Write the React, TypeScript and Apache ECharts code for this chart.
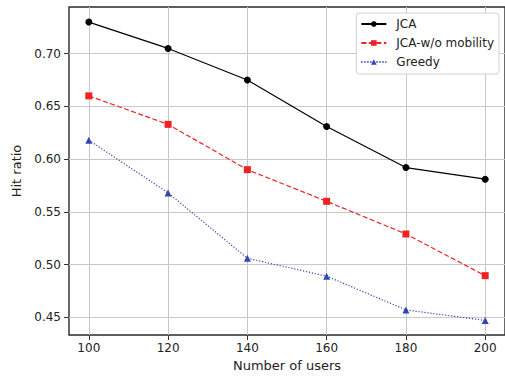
import React, { useEffect, useRef } from "react";
import * as echarts from "echarts";

const users = [100, 120, 140, 160, 180, 200];
const jca = [0.730, 0.705, 0.675, 0.631, 0.592, 0.581];
const jcaNoMobility = [0.660, 0.633, 0.590, 0.560, 0.529, 0.4895];
const greedy = [0.618, 0.568, 0.506, 0.489, 0.457, 0.447];
const yTicks = [0.45, 0.5, 0.55, 0.6, 0.65, 0.7];
const seriesNames = ["JCA", "JCA-w/o mobility", "Greedy"];

const FONT = "DejaVu Sans";

export default function App() {
  const ref = useRef<HTMLDivElement>(null);
  useEffect(() => {
    const chart = echarts.init(ref.current!, null, { renderer: "svg" });
    const pair = (arr: number[]) => users.map((u, i) => [u, arr[i]]);
    chart.setOption({
      animation: false,
      backgroundColor: "#ffffff",
      grid: {
        left: 69,
        top: 7,
        right: 0,
        bottom: 42,
        show: true,
        borderColor: "#2a2a2a",
        borderWidth: 1.4,
        backgroundColor: "transparent",
      },
      legend: {
        orient: "vertical",
        right: 6,
        top: 13,
        data: seriesNames,
        itemWidth: 25,
        itemHeight: 7,
        itemGap: 7,
        padding: [5, 5, 6, 4],
        backgroundColor: "#ffffff",
        borderColor: "#d0d0d0",
        borderWidth: 1,
        borderRadius: 3,
        textStyle: { fontFamily: FONT, fontSize: 12, color: "#222", padding: [0, 0, 0, 5] },
      },
      xAxis: {
        type: "value",
        min: 95,
        max: 205,
        name: "Number of users",
        nameLocation: "middle",
        nameGap: 24,
        nameTextStyle: { fontFamily: FONT, fontSize: 13, color: "#222" },
        axisLine: { show: false },
        axisTick: { show: true, customValues: users, length: 5, lineStyle: { color: "#333" } },
        axisLabel: { customValues: users, fontFamily: FONT, fontSize: 12, color: "#222", margin: 7 },
        splitLine: { show: true, lineStyle: { color: "#c8c8c8", width: 1 } },
      },
      yAxis: {
        type: "value",
        min: 0.4332,
        max: 0.7443,
        name: "Hit ratio",
        nameLocation: "middle",
        nameGap: 31,
        nameTextStyle: { fontFamily: FONT, fontSize: 13, color: "#222" },
        axisLine: { show: false },
        axisTick: { show: true, customValues: yTicks, length: 5, lineStyle: { color: "#333" } },
        axisLabel: {
          customValues: yTicks,
          fontFamily: FONT,
          fontSize: 12,
          color: "#222",
          margin: 8,
          formatter: (v: number) => v.toFixed(2),
        },
        splitLine: { show: true, lineStyle: { color: "#c8c8c8", width: 1 } },
      },
      series: [
        {
          name: seriesNames[0],
          type: "line",
          data: pair(jca),
          symbol: "circle",
          symbolSize: 7,
          itemStyle: { color: "#000000" },
          lineStyle: { color: "#000000", width: 1.2, type: "solid" },
        },
        {
          name: seriesNames[1],
          type: "line",
          data: pair(jcaNoMobility),
          symbol: "rect",
          symbolSize: 7,
          itemStyle: { color: "#ee2222" },
          lineStyle: { color: "#ee2222", width: 1.2, type: [5, 2.5] },
        },
        {
          name: seriesNames[2],
          type: "line",
          data: pair(greedy),
          symbol: "triangle",
          symbolSize: 7,
          itemStyle: { color: "#2f48b0" },
          lineStyle: { color: "#2f48b0", width: 1.2, type: [1.2, 1.8] },
        },
      ],
    });
    return () => chart.dispose();
  }, []);
  return (
    <div
      ref={ref}
      style={{ position: "fixed", left: 0, top: 0, width: 505, height: 377 }}
    />
  );
}
